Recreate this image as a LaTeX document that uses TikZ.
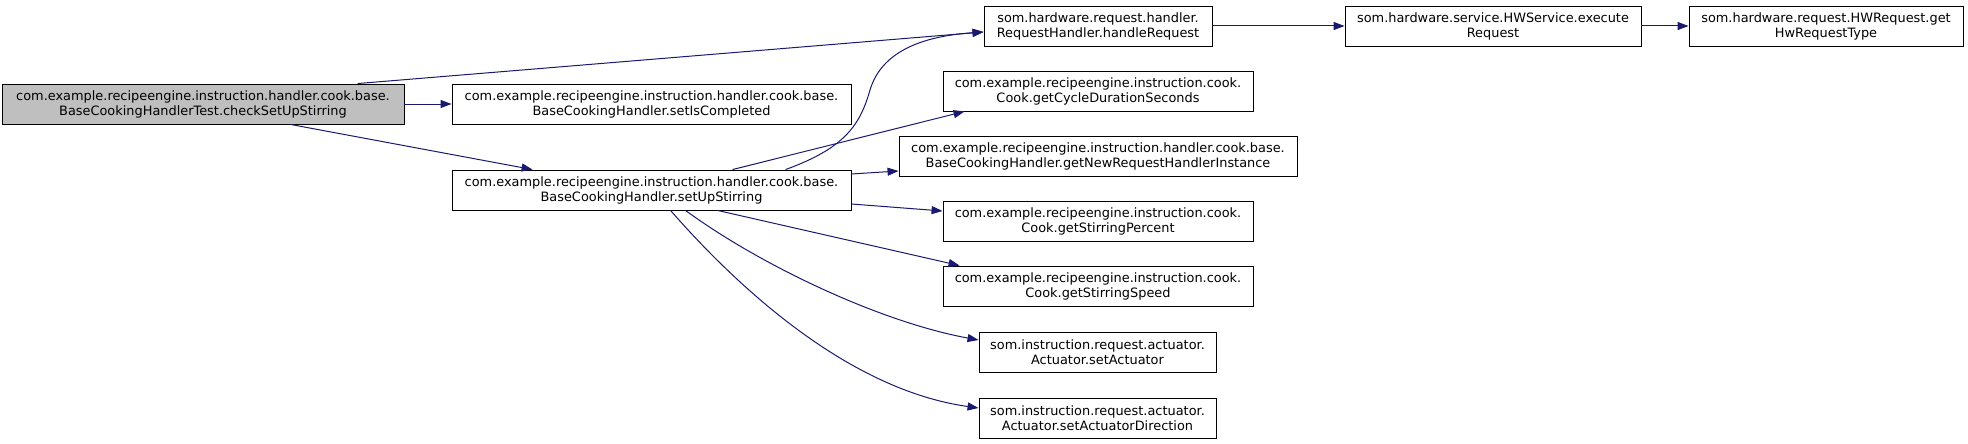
\documentclass[tikz,border=0pt]{standalone}
\usepackage{fontspec}
\setmainfont{DejaVu Sans}
\usetikzlibrary{arrows.meta,calc}
\definecolor{edgeblue}{HTML}{191970}
\definecolor{rootgray}{HTML}{BFBFBF}
\tikzset{
  fnbox/.style={draw=black, fill=white, line width=0.9pt, align=center, inner sep=0pt,
    minimum height=40pt, font=\fontsize{12.9}{15}\selectfont, text=black},
  calledge/.style={draw=edgeblue, line width=1pt, -{Triangle[length=11pt,width=8pt]}},
}
\begin{document}
\begin{tikzpicture}[x=1pt,y=-1pt]
\useasboundingbox (0,0) rectangle (1968,444);
\node[fnbox, fill=rootgray, minimum width=402pt] (A) at (203,104) {com.example.recipeengine.instruction.handler.cook.base.\\BaseCookingHandlerTest.checkSetUpStirring};
\node[fnbox, minimum width=399pt] (B) at (651.5,104) {com.example.recipeengine.instruction.handler.cook.base.\\BaseCookingHandler.setIsCompleted};
\node[fnbox, minimum width=399pt] (C) at (651.5,190) {com.example.recipeengine.instruction.handler.cook.base.\\BaseCookingHandler.setUpStirring};
\node[fnbox, minimum width=228pt] (D) at (1098,26) {som.hardware.request.handler.\\RequestHandler.handleRequest};
\node[fnbox, minimum width=296pt] (E) at (1493,26) {som.hardware.service.HWService.execute\\Request};
\node[fnbox, minimum width=274pt] (F) at (1826,26) {som.hardware.request.HWRequest.get\\HwRequestType};
\node[fnbox, minimum width=310pt] (G) at (1098,91) {com.example.recipeengine.instruction.cook.\\Cook.getCycleDurationSeconds};
\node[fnbox, minimum width=398pt] (H) at (1098,156) {com.example.recipeengine.instruction.handler.cook.base.\\BaseCookingHandler.getNewRequestHandlerInstance};
\node[fnbox, minimum width=310pt] (I) at (1098,221) {com.example.recipeengine.instruction.cook.\\Cook.getStirringPercent};
\node[fnbox, minimum width=310pt] (J) at (1098,286) {com.example.recipeengine.instruction.cook.\\Cook.getStirringSpeed};
\node[fnbox, minimum width=237pt] (K) at (1097.5,352) {som.instruction.request.actuator.\\Actuator.setActuator};
\node[fnbox, minimum width=237pt] (L) at (1097.5,418) {som.instruction.request.actuator.\\Actuator.setActuatorDirection};

% edges
\draw[calledge] ($(A.north west)+(356,0)$) -- ([yshift=-6pt]D.west);
\draw[calledge] (A.east) -- (B.west);
\draw[calledge] ($(A.south west)+(289,0)$) -- ($(C.north west)+(81,0)$);
\draw[calledge] ($(C.north west)+(334,0)$) .. controls (845,148) and (860,125) .. (870,90)
  .. controls (882,50) and (925,36) .. ([yshift=-6pt]D.west);
\draw[calledge] ($(C.north west)+(281,0)$) -- ($(G.south west)+(22,0)$);
\draw[calledge] ([yshift=16pt]C.east) -- ([yshift=-15pt]H.west);
\draw[calledge] ([yshift=-14pt]C.east) -- ([yshift=10pt]I.west);
\draw[calledge] ($(C.south west)+(266,0)$) -- ($(J.north west)+(17,0)$);
\draw[calledge] ($(C.south west)+(234,0)$) .. controls (760,265) and (880,322) .. ([yshift=12pt]K.west);
\draw[calledge] ($(C.south west)+(219,0)$) .. controls (740,290) and (850,390) .. ([yshift=10pt]L.west);
\draw[calledge] (D.east) -- (E.west);
\draw[calledge] (E.east) -- (F.west);
\end{tikzpicture}
\end{document}
